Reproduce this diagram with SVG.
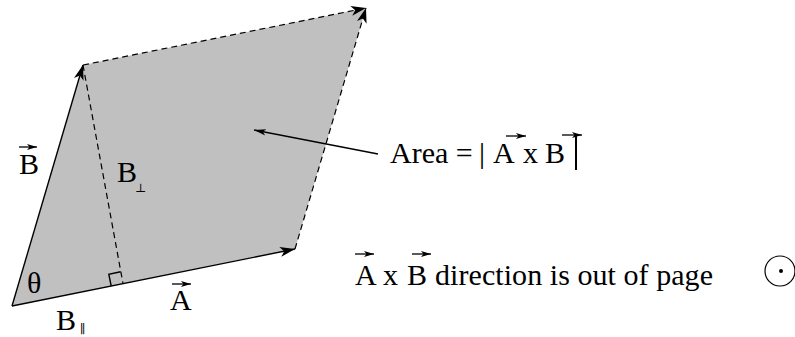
<svg xmlns="http://www.w3.org/2000/svg" width="795" height="337" viewBox="0 0 795 337">
<style>
.t{font-family:"Liberation Serif","Times New Roman",serif;font-size:30px;fill:#000}
.s{font-family:"DejaVu Serif","Liberation Serif",serif;font-size:12px;fill:#000}
.edge{stroke:#000;stroke-width:1.4;fill:none}
.dash{stroke:#000;stroke-width:1.2;fill:none;stroke-dasharray:6 4}
.vec{stroke:#000;stroke-width:1.3;fill:none}
</style>
<defs>
<marker id="ah" markerUnits="userSpaceOnUse" markerWidth="16" markerHeight="10" refX="15" refY="5" orient="auto" viewBox="0 0 16 10">
<path d="M0,0 L15,5 L0,10 L4,5 z" fill="#000"/>
</marker>
<marker id="ahs" markerUnits="userSpaceOnUse" markerWidth="12" markerHeight="8" refX="12" refY="4" orient="auto" viewBox="0 0 12 8">
<path d="M0,0.8 L12,4 L0,7.2 L3,4 z" fill="#000"/>
</marker>
<marker id="va" markerUnits="userSpaceOnUse" markerWidth="10" markerHeight="6" refX="10" refY="3" orient="auto" viewBox="0 0 10 6">
<path d="M0,0 L10,3 L0,6 L2.5,3 z" fill="#000"/>
</marker>
</defs>
<g id="parallelogram">
<polygon points="12,306 295,249 366,8 83,65" fill="#c0c0c0" stroke="none"/>
</g>
<g id="connectors">
<line class="edge" x1="12" y1="306" x2="295" y2="249" marker-end="url(#ah)"/>
<line class="edge" x1="12" y1="306" x2="83" y2="65" marker-end="url(#ah)"/>
<line class="dash" x1="83" y1="65" x2="366" y2="8" marker-end="url(#ah)"/>
<line class="dash" x1="295" y1="249" x2="366" y2="8" marker-end="url(#ah)"/>
<line class="dash" x1="83" y1="65" x2="123" y2="283.6"/>
<polyline class="edge" stroke-width="1.1" points="111.2,286 108.8,274.2 120.6,271.8"/>
<line class="edge" stroke-width="1.2" x1="378" y1="154" x2="254" y2="130" marker-end="url(#ahs)"/>
</g>
<g id="label-B">
<text class="t" x="19" y="174">B</text>
<line class="vec" x1="19" y1="147" x2="37" y2="147" marker-end="url(#va)"/>
</g>
<g id="label-Bperp">
<text class="t" x="117" y="182">B</text>
<text class="s" x="135" y="192">⊥</text>
</g>
<g id="label-theta">
<text class="t" x="27" y="293">θ</text>
</g>
<g id="label-Bpar">
<text class="t" x="56" y="330">B</text>
<text class="s" x="80" y="333">∥</text>
</g>
<g id="label-A">
<text class="t" x="170" y="310">A</text>
<line class="vec" x1="172" y1="284" x2="191" y2="284" marker-end="url(#va)"/>
</g>
<g id="label-area">
<text class="t" x="390" y="163">Area =</text>
<text class="t" x="479" y="163">|</text>
<text class="t" x="493" y="163">A</text>
<text class="t" x="523" y="163">x</text>
<text class="t" x="545" y="163">B</text>
<line x1="576" y1="136" x2="576" y2="170" stroke="#000" stroke-width="2"/>
<line class="vec" x1="506" y1="136" x2="526" y2="136" marker-end="url(#va)"/>
<line class="vec" x1="562" y1="135" x2="582" y2="135" marker-end="url(#va)"/>
</g>
<g id="label-direction">
<text class="t" x="355" y="285">A</text>
<text class="t" x="383" y="285">x</text>
<text class="t" x="407" y="285">B</text>
<text class="t" x="435" y="285" textLength="278" lengthAdjust="spacing">direction is out of page</text>
<line class="vec" x1="355" y1="254" x2="374" y2="254" marker-end="url(#va)"/>
<line class="vec" x1="412" y1="254" x2="431" y2="254" marker-end="url(#va)"/>
</g>
<g id="out-of-page">
<circle cx="780" cy="271" r="15" fill="none" stroke="#000" stroke-width="1.2"/>
<circle cx="781" cy="271" r="2" fill="#000"/>
</g>
</svg>
